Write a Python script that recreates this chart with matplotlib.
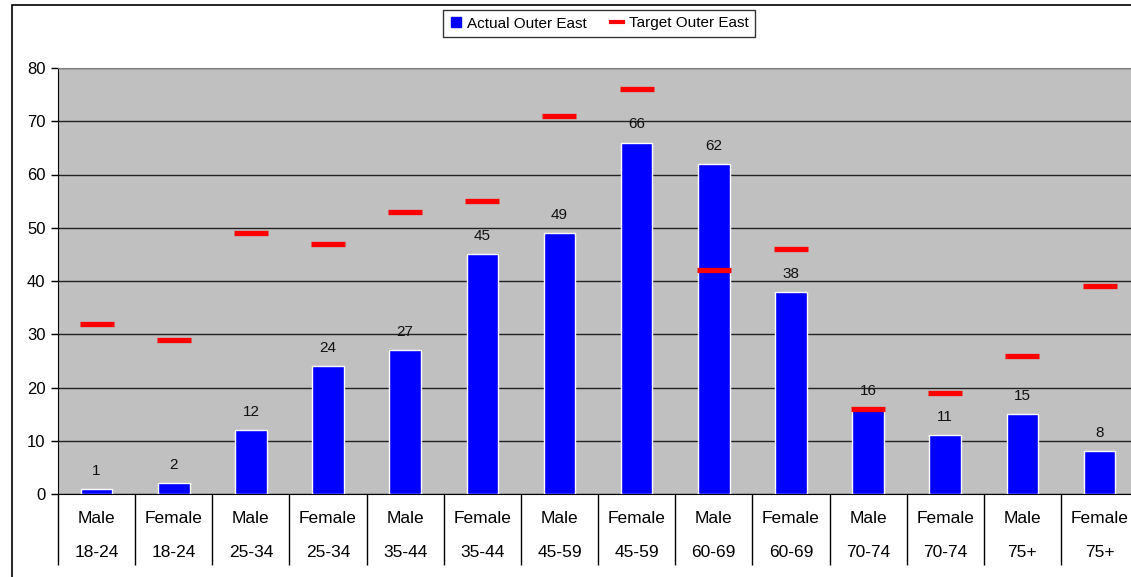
import matplotlib
matplotlib.use("Agg")
import matplotlib.pyplot as plt
from matplotlib.patches import Rectangle
from matplotlib.lines import Line2D
import numpy as np

plt.rcParams['font.family'] = ['Liberation Sans', 'DejaVu Sans']

genders = ["Male", "Female"] * 7
ages = ["18-24", "18-24", "25-34", "25-34", "35-44", "35-44", "45-59", "45-59",
        "60-69", "60-69", "70-74", "70-74", "75+", "75+"]
actual = [1, 2, 12, 24, 27, 45, 49, 66, 62, 38, 16, 11, 15, 8]
target = [32, 29, 49, 47, 53, 55, 71, 76, 42, 46, 16, 19, 26, 39]
yticks = [0, 10, 20, 30, 40, 50, 60, 70, 80]

W, H = 1131, 577
fig = plt.figure(figsize=(W / 100, H / 100), dpi=100)

# outer chart border (extends past the image edge)
fig.patches.append(Rectangle((12 / W, 0 - 0.1), 1.2, (H - 5) / H + 0.1,
                             transform=fig.transFigure, fill=False,
                             edgecolor='black', linewidth=1.2, clip_on=False))

x0, x1 = 58, 58 + 77.15 * 14
y_top, y_bot = 68, 494
ax = fig.add_axes([x0 / W, (H - y_bot) / H, (x1 - x0) / W, (y_bot - y_top) / H])
ax.set_facecolor('#C0C0C0')

x = np.arange(len(actual))
ax.bar(x, actual, width=0.41, color='#0000FF', edgecolor='white',
       linewidth=1, zorder=3)
ax.plot(x, target, linestyle='none', marker='_', markersize=25,
        markeredgewidth=3.8, color='#FF0000', zorder=4)

for xi, v in zip(x, actual):
    ax.annotate(str(v), (xi, v), xytext=(0, 8), textcoords='offset points',
                ha='center', va='bottom', fontsize=11, color='#111111')

ax.set_xlim(-0.5, len(actual) - 0.5)
ax.set_ylim(0, 80)
ax.set_yticks(yticks)
ax.yaxis.grid(True, color='#222222', linewidth=1)
ax.set_axisbelow(True)
ax.tick_params(axis='y', direction='out', length=5, width=1, labelsize=12, pad=4)

ax.set_xticks(x)
ax.set_xticklabels([f"{g}\n{a}" for g, a in zip(genders, ages)], fontsize=12.5,
                   linespacing=2.6)
ax.tick_params(axis='x', which='major', length=0, pad=12)
ax.set_xticks(np.arange(-0.5, len(actual), 1.0), minor=True)
ax.tick_params(axis='x', which='minor', direction='out', length=51, width=1)

ax.spines['top'].set_color('#808080')
ax.spines['right'].set_visible(False)
ax.spines['left'].set_color('black')
ax.spines['bottom'].set_color('black')

handles = [
    Line2D([], [], linestyle='none', marker='s', markersize=6.5,
           color='#0000FF', label='Actual Outer East'),
    Line2D([], [], color='#FF0000', linewidth=3, label='Target Outer East'),
]
leg = fig.legend(handles=handles, loc='center',
                 bbox_to_anchor=(599 / W, (H - 23.5) / H),
                 ncol=2, fontsize=11, frameon=True, fancybox=False,
                 edgecolor='black', handlelength=0.8, columnspacing=1.6,
                 handletextpad=0.35, borderpad=0.45)
leg.get_frame().set_linewidth(1)

fig.savefig('out.png', dpi=100)
